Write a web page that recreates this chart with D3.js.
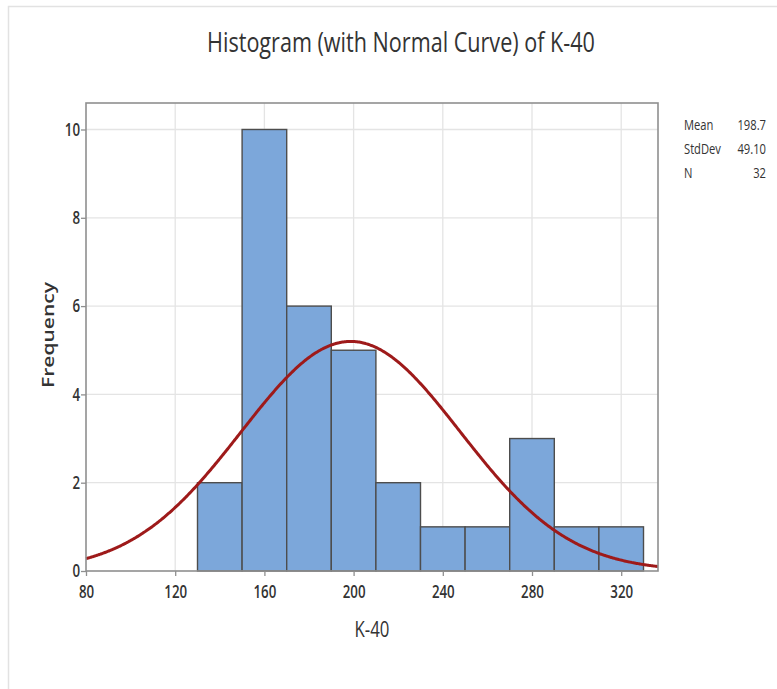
<!DOCTYPE html>
<html>
<head>
<meta charset="utf-8">
<script src="https://cdn.jsdelivr.net/npm/d3@7"></script>
<style>
  body { margin: 0; background: #fff; }
  text { font-family: "Open Sans", "Noto Sans", sans-serif; fill: #333; }
</style>
</head>
<body>
<svg id="chart" width="777" height="689"></svg>
<script>
// histogram bins (K-40), width 20
const binStarts = [130, 150, 170, 190, 210, 230, 250, 270, 290, 310];
const binWidth = 20;
const counts = [2, 10, 6, 5, 2, 1, 1, 3, 1, 1];
const xTicks = [80, 120, 160, 200, 240, 280, 320];
const yTicks = [0, 2, 4, 6, 8, 10];
const statLabels = ["Mean", "StdDev", "N"];
const statValues = ["198.7", "49.10", "32"];
const mean = 198.7, sd = 49.10, n = 32;

const svg = d3.select('#chart');
const sx = 0.8; // the source text looks squeezed sideways

// outer light border
svg.append("path")
    .attr("d", "M8.5,700V6.5H790")
    .attr("fill", "none")
    .attr("stroke", "#e2e2e2")
    .attr("stroke-width", 1.5);

const plotL = 86, plotR = 658, plotT = 103, plotB = 571;
const x = d3.scaleLinear().domain([80, 336.5]).range([plotL, plotR]);
const y = d3.scaleLinear().domain([0, 10.6]).range([plotB, plotT]);

// gridlines
svg.append("g").selectAll("line")
    .data(xTicks.slice(1))
    .join("line")
    .attr("x1", d => x(d)).attr("x2", d => x(d))
    .attr("y1", plotT).attr("y2", plotB)
    .attr("stroke", "#e4e4e4").attr("stroke-width", 1.3);
svg.append("g").selectAll("line")
    .data(yTicks.slice(1))
    .join("line")
    .attr("x1", plotL).attr("x2", plotR)
    .attr("y1", d => y(d)).attr("y2", d => y(d))
    .attr("stroke", "#e4e4e4").attr("stroke-width", 1.3);

// bars
svg.append("g").selectAll("rect")
    .data(binStarts.map((s, i) => ({s: s, c: counts[i]})))
    .join("rect")
    .attr("x", d => x(d.s))
    .attr("width", d => x(d.s + binWidth) - x(d.s))
    .attr("y", d => y(d.c))
    .attr("height", d => y(0) - y(d.c))
    .attr("fill", "#7ca7da")
    .attr("stroke", "#4d4d4d")
    .attr("stroke-width", 1.4);

// normal curve scaled to counts
const scale = n * binWidth / (sd * Math.sqrt(2 * Math.PI));
const curveX = d3.range(80, 337, 0.5);
const line = d3.line()
    .x(d => x(d))
    .y(d => y(scale * Math.exp(-0.5 * ((d - mean) / sd) ** 2)))
    .curve(d3.curveMonotoneX);
svg.append("path")
    .datum(curveX)
    .attr("d", line)
    .attr("fill", "none")
    .attr("stroke", "#9e1a1a")
    .attr("stroke-width", 3);

// frame
svg.append("rect")
    .attr("x", plotL).attr("y", plotT)
    .attr("width", plotR - plotL).attr("height", plotB - plotT)
    .attr("fill", "none")
    .attr("stroke", "#8f8f8f")
    .attr("stroke-width", 1.6);

// axes
const xAxis = svg.append("g")
    .attr("transform", "translate(0," + plotB + ")")
    .call(d3.axisBottom(x).tickValues(xTicks).tickSize(5).tickPadding(4));
const yAxis = svg.append("g")
    .attr("transform", "translate(" + plotL + ",0)")
    .call(d3.axisLeft(y).tickValues(yTicks).tickSize(5).tickPadding(3));
[xAxis, yAxis].forEach(a => {
    a.select(".domain").remove();
    a.selectAll(".tick line").attr("stroke", "#8f8f8f").attr("stroke-width", 1.3);
    a.selectAll(".tick text")
        .attr("font-size", 18)
        .attr("font-weight", 600)
        .attr("fill", "#262626")
        .style("font-family", '"Open Sans", sans-serif');
});
xAxis.selectAll(".tick text")
    .attr("transform", "translate(0,14) scale(0.74,1)")
    .attr("y", 0).attr("dy", "0.71em");
yAxis.selectAll(".tick text")
    .attr("transform", "translate(-6,0) scale(0.74,1)")
    .attr("x", 0);

// title
svg.append("text")
    .attr("transform", "translate(401,52) scale(" + sx + ",1)")
    .attr("text-anchor", "middle")
    .attr("font-size", 27)
    .attr("fill", "#222")
    .text("Histogram (with Normal Curve) of K-40");

// axis labels
svg.append("text")
    .attr("transform", "translate(372,637) scale(" + sx + ",1)")
    .attr("text-anchor", "middle")
    .attr("font-size", 21)
    .text("K-40");
svg.append("text")
    .attr("transform", "translate(54,335) rotate(-90) scale(1,0.8)")
    .attr("text-anchor", "middle")
    .attr("font-size", 21)
    .attr("font-weight", 600)
    .attr("fill", "#444")
    .text("Frequency");

// stats table
const stats = svg.append("g");
statLabels.forEach((lab, i) => {
    stats.append("text")
        .attr("transform", "translate(684," + (130 + i * 24) + ") scale(" + sx + ",1)")
        .attr("font-size", 14)
        .text(lab);
    stats.append("text")
        .attr("transform", "translate(766," + (130 + i * 24) + ") scale(" + sx + ",1)")
        .attr("text-anchor", "end")
        .attr("font-size", 14)
        .text(statValues[i]);
});
</script>
</body>
</html>
